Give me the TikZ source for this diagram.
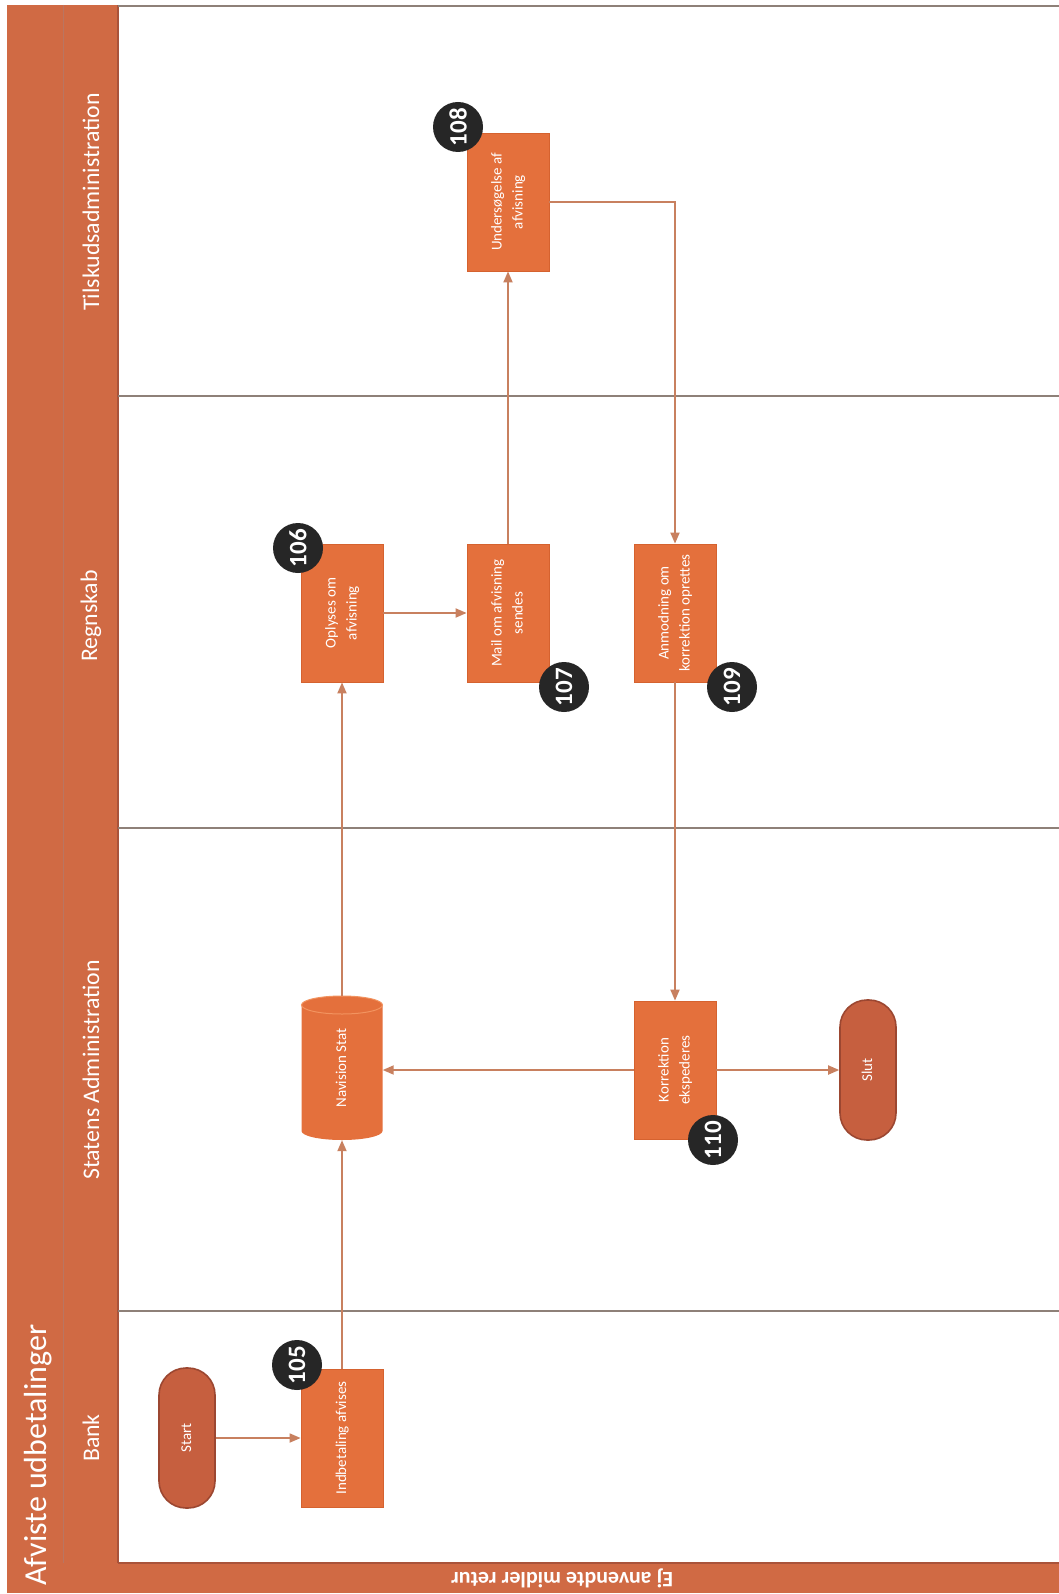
\documentclass[tikz,border=0pt]{standalone}
\usepackage{fontspec}
\setmainfont{Carlito}
\usepackage{graphicx}
\usetikzlibrary{arrows.meta}
\definecolor{procfill}{HTML}{E4703C}
\definecolor{procedge}{HTML}{D5622F}
\definecolor{termfill}{HTML}{C65F3F}
\definecolor{termedge}{HTML}{9C4731}
\definecolor{hdrfill}{HTML}{D06A44}
\definecolor{hdredge}{HTML}{A9533A}
\definecolor{lanecol}{HTML}{8E8078}
\definecolor{flowcol}{HTML}{C8805F}
\definecolor{badgefill}{HTML}{262626}
\definecolor{rimcol}{HTML}{F2935F}
\newcommand{\rottxt}[1]{\rotatebox{90}{\begin{tabular}{@{}c@{}}#1\end{tabular}}}
\begin{document}
\begin{tikzpicture}[x=1pt,y=1pt,
  proc/.style={rectangle, fill=procfill, draw=procedge, line width=0.8pt,
    minimum width=82pt, minimum height=138pt, inner sep=0pt, text=white,
    font=\fontsize{15}{21}\selectfont},
  term/.style={rectangle, rounded corners=27pt, fill=termfill, draw=termedge,
    line width=1.6pt, minimum width=56pt, minimum height=140pt, inner sep=0pt,
    text=white, font=\fontsize{15}{21}\selectfont},
  badge/.style={circle, fill=badgefill, minimum size=50pt, inner sep=0pt,
    text=white, font=\bfseries\fontsize{25}{25}\selectfont},
  flow/.style={draw=flowcol, line width=1.8pt, -{Triangle[length=11pt,width=9pt]}},
  lane/.style={draw=lanecol, line width=1.5pt},
  lanelabel/.style={text=white, font=\fontsize{23.8}{24}\selectfont, rotate=90}
]
\useasboundingbox (0,0) rectangle (1059,-1594);
\fill[white] (0,0) rectangle (1059,-1594);

% frame bands
\fill[hdrfill] (7,-5) rectangle (118,-1593);
\fill[hdrfill] (7,-1563) rectangle (1059,-1593);
\draw[draw=hdredge!80, line width=0.8pt] (63,-5) -- (63,-1563);
\draw[draw=hdredge, line width=1.5pt] (118,-5) -- (118,-1563);
\draw[draw=hdredge, line width=1.2pt] (118,-1563) -- (1059,-1563);

% lane dividers
\draw[lane] (118,-6) -- (1059,-6);
\draw[lane] (118,-396) -- (1059,-396);
\draw[lane] (118,-828) -- (1059,-828);
\draw[lane] (118,-1311) -- (1059,-1311);

% titles
\node[text=white, font=\fontsize{32}{32}\selectfont, rotate=90, anchor=base west, inner sep=0pt]
  (title) at (46,-1586) {Afviste udbetalinger};
\node[lanelabel] (l1) at (91,-202) {Tilskudsadministration};
\node[lanelabel] (l2) at (91,-616) {Regnskab};
\node[lanelabel] (l3) at (91,-1070) {Statens Administration};
\node[lanelabel] (l4) at (91,-1438) {Bank};
\node[text=white, font=\bfseries\fontsize{22}{22}\selectfont, rotate=180]
  (bottom) at (562,-1578) {Ej anvendte midler retur};

% cylinder
\fill[procfill] (301.5,-1005) -- (301.5,-1131)
  arc[start angle=180, end angle=360, x radius=40.5, y radius=9]
  -- (382.5,-1005)
  arc[start angle=0, end angle=180, x radius=40.5, y radius=9] -- cycle;
\draw[rimcol, line width=1pt] (342,-1005) ellipse[x radius=40.5, y radius=9];
\node[rectangle, minimum width=81pt, minimum height=144pt, inner sep=0pt,
  text=white, font=\fontsize{15}{21}\selectfont] (nav) at (342,-1068) {\rottxt{Navision Stat}};

% nodes
\node[term] (start) at (187,-1438) {\rottxt{Start}};
\node[proc] (n105) at (342,-1438) {\rottxt{Indbetaling afvises}};
\node[proc] (n106) at (342,-613) {\rottxt{Oplyses om\\afvisning}};
\node[proc] (n107) at (508,-613) {\rottxt{Mail om afvisning\\sendes}};
\node[proc] (n109) at (675,-613) {\rottxt{Anmodning om\\korrektion oprettes}};
\node[proc] (n108) at (508,-202) {\rottxt{Undersøgelse af\\afvisning}};
\node[proc] (n110) at (675,-1070) {\rottxt{Korrektion\\ekspederes}};
\node[term] (slut) at (868,-1070) {\rottxt{Slut}};

% connectors
\draw[flow] (start) -- (n105);
\draw[flow] (n105) -- (nav);
\draw[flow] (nav) -- (n106);
\draw[flow] (n106) -- (n107);
\draw[flow] (n107) -- (n108);
\draw[flow] (n108.east) -| (n109.north);
\draw[flow] (n109) -- (n110);
\draw[flow] (n110.west) -- (nav.east |- n110.west);
\draw[flow] (n110) -- (slut);

% badges
\node[badge] (b105) at (297,-1365) {\rotatebox{90}{105}};
\node[badge] (b106) at (298,-548) {\rotatebox{90}{106}};
\node[badge] (b107) at (564,-687) {\rotatebox{90}{107}};
\node[badge] (b108) at (458,-127) {\rotatebox{90}{108}};
\node[badge] (b109) at (732,-687) {\rotatebox{90}{109}};
\node[badge] (b110) at (713,-1140) {\rotatebox{90}{110}};
\end{tikzpicture}
\end{document}
